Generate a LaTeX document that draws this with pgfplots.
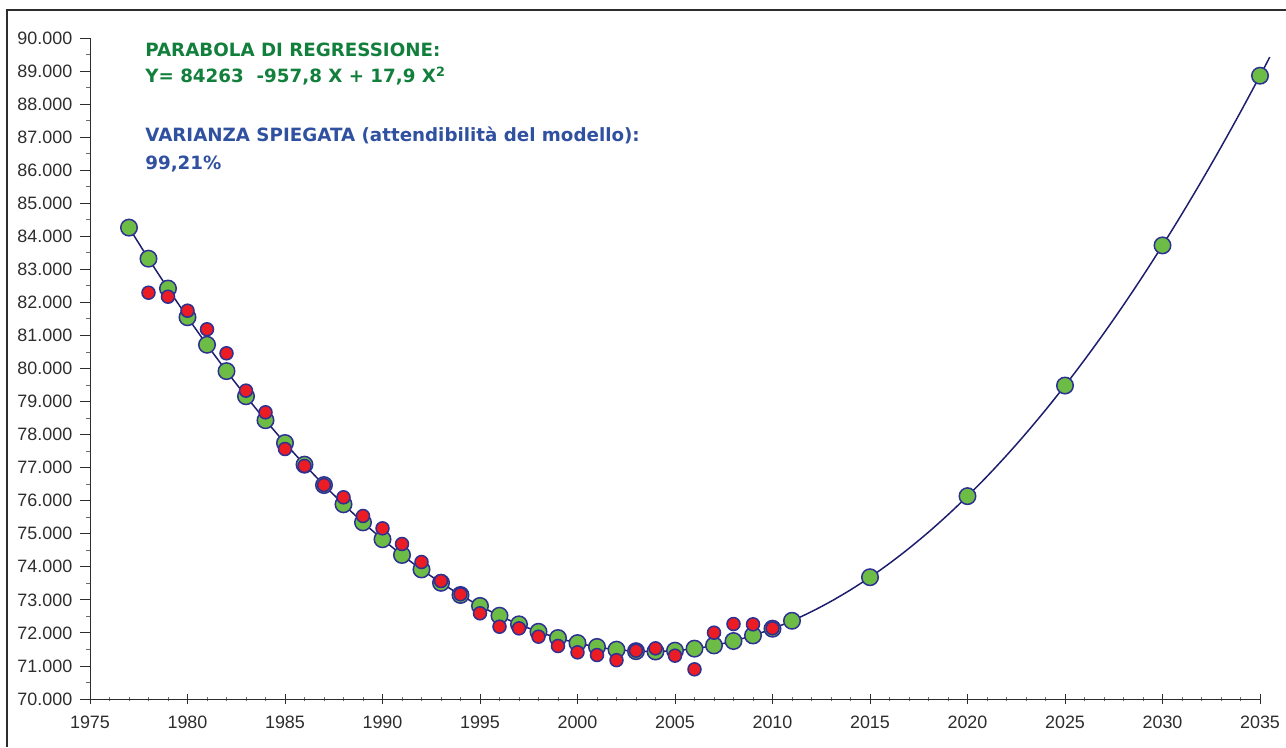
\documentclass[border=0pt]{standalone}
\usepackage{fontspec}
\setmainfont{Liberation Sans}
\newfontfamily\boxfont{DejaVu Sans}
\usepackage{pgfplots}
\pgfplotsset{compat=1.18}
\definecolor{txtgreen}{RGB}{18,128,60}
\definecolor{txtblue}{RGB}{48,80,160}
\definecolor{mkgreen}{RGB}{108,188,70}
\definecolor{mkred}{RGB}{236,28,36}
\definecolor{mkedge}{RGB}{46,49,146}
\definecolor{curve}{RGB}{30,30,110}
\definecolor{axgray}{RGB}{45,45,45}
\begin{document}
\begin{tikzpicture}
\path[use as bounding box] (-18mm,-9.6mm) rectangle (239.2mm,139.8mm);
\draw[axgray,line width=0.3mm] (-16.6mm,-9.6mm) -- (-16.6mm,137.8mm) -- (239.2mm,137.8mm);
\begin{axis}[
  at={(0,0)}, anchor=south west,
  width=234mm, height=132.2mm, scale only axis,
  xmin=1975, xmax=2035, ymin=70000, ymax=90000,
  clip=false,
  axis lines=left,
  axis line style={-, axgray, line width=0.5pt},
  xtick={1975,1980,...,2035},
  minor x tick num=4,
  ytick={70000,71000,...,90000},
  minor y tick num=1,
  major tick style={axgray, line width=0.5pt},
  minor tick style={axgray!70, line width=0.5pt},
  xtick align=center,
  ytick align=outside,
  major tick length=2mm,
  minor tick length=0.8mm,
  tick label style={font=\fontsize{10.2}{12}\selectfont, text=axgray},
  /pgf/number format/assume math mode=true,
  x tick label style={/pgf/number format/1000 sep={}, yshift=-1.1mm},
  y tick label style={/pgf/number format/1000 sep={.}, xshift=-0.3mm},
  scaled y ticks=false,
]
% regression curve
\addplot[curve, line width=0.85pt, smooth, mark=none] coordinates {
(1977,84263)(1978,83323)(1979,82419)(1980,81550)(1981,80718)(1982,79921)
(1983,79160)(1984,78435)(1985,77745)(1986,77091)(1987,76473)(1988,75891)
(1989,75344)(1990,74833)(1991,74358)(1992,73919)(1993,73516)(1994,73148)
(1995,72816)(1996,72520)(1997,72259)(1998,72034)(1999,71845)(2000,71692)
(2001,71575)(2002,71493)(2003,71447)(2004,71437)(2005,71463)(2006,71524)
(2007,71621)(2008,71754)(2009,71923)(2010,72127)(2011,72367)(2012,72643)
(2013,72955)(2014,73302)(2015,73685)(2016,74104)(2017,74559)(2018,75049)
(2019,75576)(2020,76138)(2021,76735)(2022,77369)(2023,78038)(2024,78743)
(2025,79484)(2026,80261)(2027,81073)(2028,81921)(2029,82805)(2030,83725)
(2031,84680)(2032,85671)(2033,86698)(2034,87761)(2035,88859)(2035.5,89422)
};
% fitted values (green)
\addplot[only marks, mark=*, mark size=1.65mm, mark options={fill=mkgreen, draw=mkedge, line width=0.3mm}] coordinates {
(1977,84263)(1978,83323)(1979,82419)(1980,81550)(1981,80718)(1982,79921)
(1983,79160)(1984,78435)(1985,77745)(1986,77091)(1987,76473)(1988,75891)
(1989,75344)(1990,74833)(1991,74358)(1992,73919)(1993,73516)(1994,73148)
(1995,72816)(1996,72520)(1997,72259)(1998,72034)(1999,71845)(2000,71692)
(2001,71575)(2002,71493)(2003,71447)(2004,71437)(2005,71463)(2006,71524)
(2007,71621)(2008,71754)(2009,71923)(2010,72127)(2011,72367)
(2015,73685)(2020,76138)(2025,79484)(2030,83725)(2035,88859)
};
% observed values (red)
\addplot[only marks, mark=*, mark size=1.3mm, mark options={fill=mkred, draw=mkedge, line width=0.3mm}] coordinates {
(1978,82293)(1979,82172)(1980,81749)(1981,81186)(1982,80460)(1983,79330)
(1984,78675)(1985,77564)(1986,77050)(1987,76475)(1988,76103)(1989,75537)
(1990,75164)(1991,74690)(1992,74145)(1993,73570)(1994,73167)(1995,72593)
(1996,72188)(1997,72138)(1998,71886)(1999,71604)(2000,71412)(2001,71331)
(2002,71175)(2003,71461)(2004,71533)(2005,71311)(2006,70898)(2007,72006)
(2008,72269)(2009,72260)(2010,72139)
};
\end{axis}
\begin{scope}[font=\boxfont\bfseries\fontsize{10.4}{13}\selectfont]
\node[anchor=base west, inner sep=0, text=txtgreen] at (11mm,128.4mm) {PARABOLA DI REGRESSIONE:};
\node[anchor=base west, inner sep=0, text=txtgreen] at (11mm,123.2mm) {Y= 84263~ -957,8 X + 17,9 X\textsuperscript{2}};
\node[anchor=base west, inner sep=0, text=txtblue] at (11mm,111.4mm) {VARIANZA SPIEGATA (attendibilità del modello):};
\node[anchor=base west, inner sep=0, text=txtblue] at (11mm,106mm) {99,21\%};
\end{scope}
\end{tikzpicture}
\end{document}
